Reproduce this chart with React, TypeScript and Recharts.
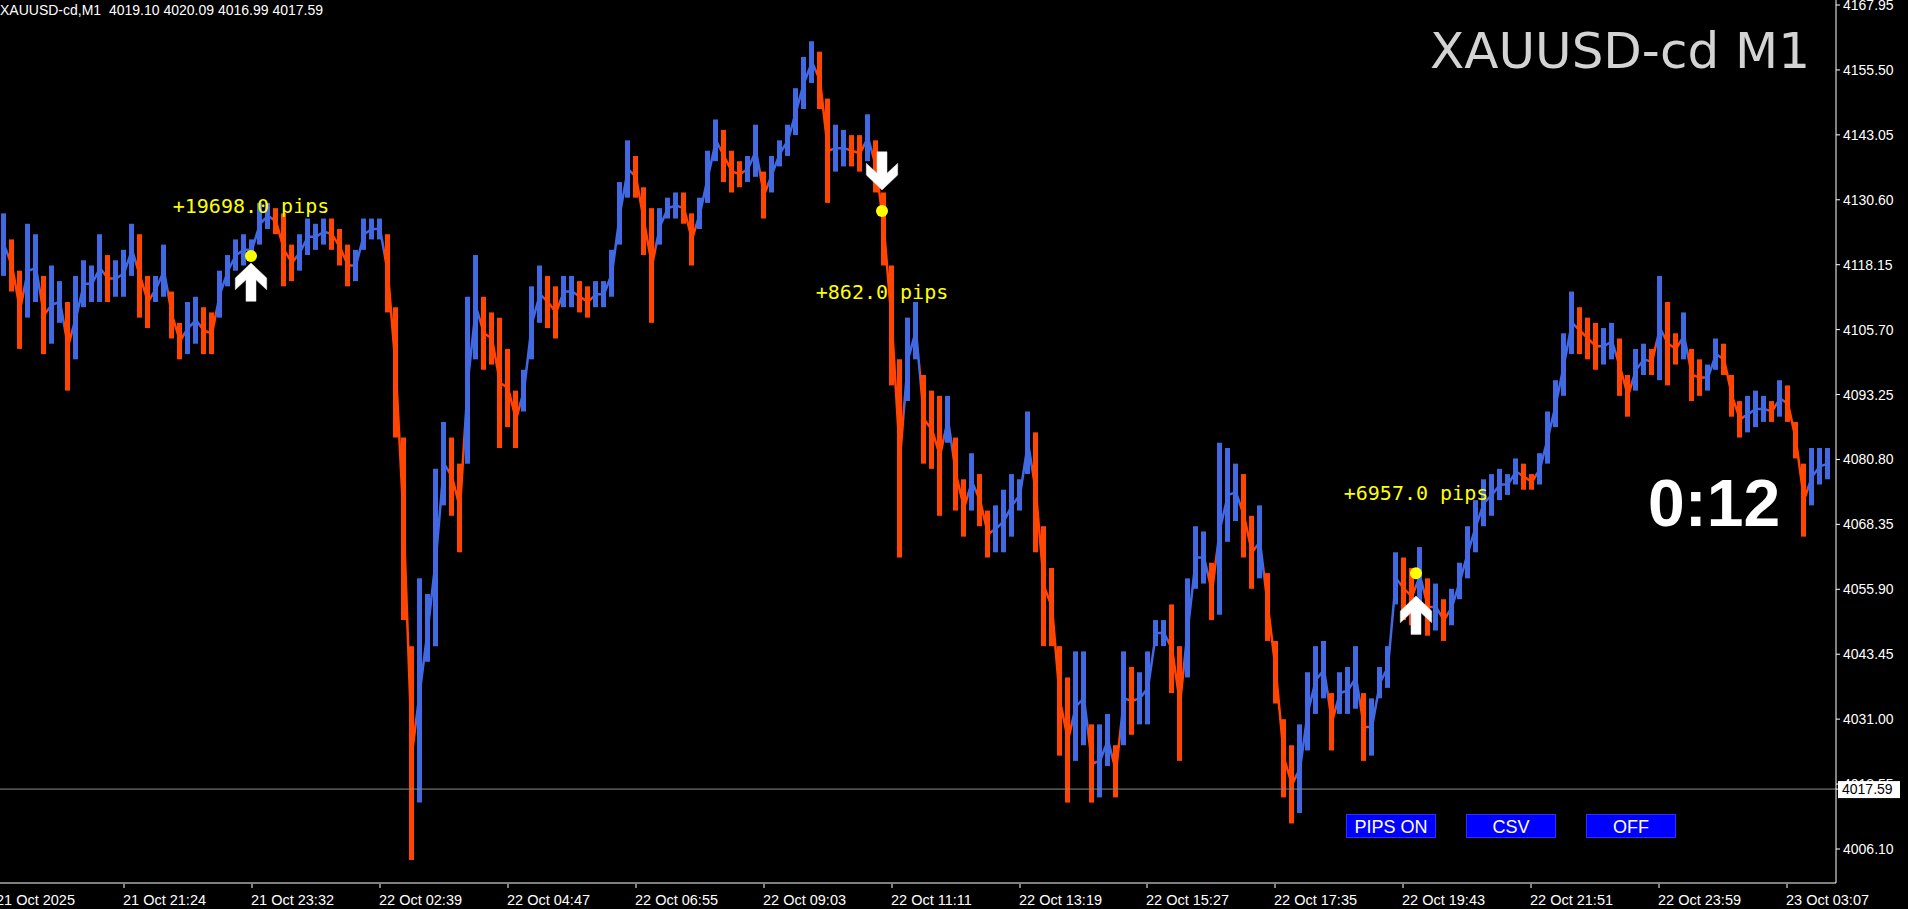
import React from 'react';
import { ComposedChart, Bar, Line, Cell, XAxis, YAxis, ReferenceLine, ReferenceDot } from 'recharts';

// XAUUSD-cd M1, sampled in 8-minute buckets (high / low of each bucket)
const highs = [
  4128, 4123, 4117, 4126, 4124, 4116, 4118, 4115, 4111, 4116,
  4119, 4118, 4124, 4120, 4119, 4121, 4126, 4124, 4116, 4116,
  4122, 4113, 4107, 4111, 4112, 4110, 4109, 4117, 4120, 4123,
  4124, 4123, 4130, 4130, 4129, 4128, 4122, 4124, 4127, 4126,
  4127, 4127, 4125, 4122, 4121, 4127, 4127, 4127, 4124, 4110,
  4085, 4045, 4058, 4055, 4079, 4088, 4085, 4080, 4112, 4120,
  4112, 4109, 4108, 4102, 4094, 4098, 4114, 4118, 4116, 4114,
  4116, 4116, 4115, 4114, 4115, 4115, 4121, 4134, 4142, 4139,
  4133, 4129, 4129, 4131, 4132, 4132, 4128, 4131, 4140, 4146,
  4144, 4140, 4138, 4139, 4145, 4136, 4139, 4142, 4145, 4152,
  4158, 4161, 4159, 4150, 4145, 4144, 4143, 4143, 4147, 4142,
  4132, 4118, 4100, 4108, 4111, 4097, 4094, 4093, 4093, 4085,
  4077, 4082, 4078, 4071, 4072, 4075, 4078, 4077, 4090, 4086,
  4068, 4060, 4045, 4039, 4044, 4044, 4030, 4030, 4032, 4026,
  4044, 4041, 4040, 4044, 4050, 4050, 4053, 4045, 4058, 4068,
  4067, 4061, 4084, 4083, 4080, 4078, 4070, 4072, 4059, 4046,
  4031, 4026, 4030, 4040, 4045, 4046, 4036, 4040, 4041, 4045,
  4036, 4035, 4041, 4045, 4063, 4062, 4060, 4064, 4058, 4057,
  4054, 4056, 4061, 4068, 4073, 4077, 4078, 4079, 4078, 4081,
  4080, 4078, 4082, 4090, 4096, 4105, 4113, 4110, 4108, 4107,
  4106, 4107, 4104, 4097, 4102, 4103, 4102, 4116, 4111, 4105,
  4109, 4102, 4100, 4099, 4104, 4103, 4097, 4092, 4093, 4094,
  4093, 4092, 4096, 4095, 4088, 4080, 4083, 4083, 4083,
];

const lows = [
  4116, 4113, 4102, 4108, 4111, 4101, 4103, 4107, 4094, 4100,
  4110, 4111, 4111, 4111, 4112, 4112, 4116, 4108, 4106, 4111,
  4112, 4104, 4100, 4101, 4103, 4101, 4101, 4108, 4114, 4117,
  4118, 4119, 4122, 4125, 4124, 4114, 4115, 4117, 4120, 4121,
  4122, 4121, 4118, 4114, 4115, 4121, 4123, 4123, 4109, 4085,
  4050, 4004, 4015, 4042, 4045, 4072, 4070, 4063, 4080, 4100,
  4098, 4099, 4083, 4087, 4083, 4090, 4100, 4107, 4106, 4104,
  4110, 4110, 4109, 4108, 4110, 4110, 4112, 4122, 4131, 4131,
  4120, 4107, 4122, 4127, 4127, 4126, 4118, 4125, 4130, 4138,
  4134, 4132, 4133, 4134, 4135, 4127, 4132, 4137, 4139, 4143,
  4148, 4153, 4148, 4130, 4136, 4137, 4137, 4136, 4138, 4132,
  4118, 4095, 4062, 4092, 4100, 4080, 4079, 4070, 4084, 4071,
  4066, 4071, 4068, 4062, 4063, 4063, 4066, 4071, 4078, 4063,
  4045, 4045, 4024, 4015, 4023, 4026, 4015, 4016, 4022, 4016,
  4026, 4028, 4030, 4030, 4045, 4045, 4036, 4023, 4039, 4056,
  4057, 4050, 4051, 4065, 4069, 4062, 4056, 4058, 4046, 4034,
  4016, 4011, 4013, 4025, 4032, 4035, 4025, 4032, 4032, 4033,
  4023, 4024, 4035, 4037, 4053, 4050, 4049, 4053, 4047, 4048,
  4046, 4049, 4054, 4058, 4063, 4068, 4070, 4073, 4074, 4076,
  4075, 4075, 4076, 4080, 4087, 4093, 4101, 4101, 4100, 4098,
  4099, 4100, 4093, 4089, 4094, 4097, 4097, 4096, 4095, 4099,
  4100, 4092, 4093, 4094, 4098, 4097, 4089, 4085, 4086, 4087,
  4088, 4088, 4089, 4088, 4081, 4066, 4072, 4076, 4077,
];

const priceTicks = [
  4006.1, 4018.55, 4031.0, 4043.45, 4055.9, 4068.35, 4080.8,
  4093.25, 4105.7, 4118.15, 4130.6, 4143.05, 4155.5, 4167.95,
];

const timeTicks = [0, 124, 252, 380, 508, 636, 764, 892, 1020, 1147, 1275, 1403, 1531, 1659, 1787];
const timeLabels = [
  '21 Oct 2025', '21 Oct 21:24', '21 Oct 23:32', '22 Oct 02:39', '22 Oct 04:47',
  '22 Oct 06:55', '22 Oct 09:03', '22 Oct 11:11', '22 Oct 13:19', '22 Oct 15:27',
  '22 Oct 17:35', '22 Oct 19:43', '22 Oct 21:51', '22 Oct 23:59', '23 Oct 03:07',
];

const lastPrice = 4017.59;

// trade signals
const signalTime = [251, 882, 1416];
const signalPrice = [4119.8, 4128.45, 4059.0];
const arrowPrice = [4118.47, 4132.47, 4054.6];
const arrowDir = ['up', 'down', 'up'];
const pipsText = ['+19698.0 pips', '+862.0 pips', '+6957.0 pips'];
const pipsPrice = [4128.06, 4111.57, 4073.03];

const BLUE = '#4169E1';
const ORANGE = '#FF4500';
const AXIS_FONT = "'Liberation Sans', Arial, sans-serif";
const PLOT_W = 1836;

const rows = highs.map((h, i) => ({ t: i * 8 + 4, range: [lows[i], h], mid: (h + lows[i]) / 2 }));

const barColor = (i: number) => {
  if (i === 0) return BLUE;
  return highs[i] + lows[i] >= highs[i - 1] + lows[i - 1] ? BLUE : ORANGE;
};

const TimeTick = (props: any) => {
  const { x, y, payload } = props;
  const idx = timeTicks.indexOf(payload.value);
  const first = idx === 0;
  return (
    <g>
      {!first && <line x1={x} x2={x} y1={y - 7} y2={y - 3} stroke="#fff" />}
      <text x={first ? x - 4 : x - 1} y={y + 14} fill="#fff" fontSize={14.5} fontFamily={AXIS_FONT}>
        {timeLabels[idx]}
      </text>
    </g>
  );
};

const PriceTick = (props: any) => {
  const { x, y, payload } = props;
  if (payload.value === lastPrice) {
    return (
      <g>
        <rect x={x - 5} y={y - 8} width={62} height={17} fill="#fff" />
        <text x={x - 1} y={y + 5} fill="#000" fontSize={14} fontFamily={AXIS_FONT}>
          {lastPrice.toFixed(2)}
        </text>
      </g>
    );
  }
  return (
    <text x={x} y={y + 5} fill="#fff" fontSize={14} fontFamily={AXIS_FONT}>
      {payload.value.toFixed(2)}
    </text>
  );
};

const Arrow = (props: any) => {
  const { cx, cy, dir } = props;
  const s = dir === 'up' ? 1 : -1;
  const pts = [
    [0, 0], [15.7, 15], [15.7, 26.7], [5, 16.7], [5, 38.3],
    [-5, 38.3], [-5, 16.7], [-15.7, 26.7], [-15.7, 15],
  ].map(([px, py]) => `${cx + px},${cy + s * py}`).join(' ');
  return <polygon points={pts} fill="#fff" stroke="#e8e8e8" strokeWidth={0.5} />;
};

const buttons = ['PIPS ON', 'CSV', 'OFF'];

export default function App() {
  return (
    <div style={{ position: 'fixed', left: 0, top: 0, width: 1908, height: 909, background: '#000', overflow: 'hidden' }}>
      <svg width={0} height={0} style={{ position: 'absolute' }}>
        <defs>
          <linearGradient id="candleGrad" gradientUnits="userSpaceOnUse" x1={0} y1={0} x2={PLOT_W} y2={0}>
            {rows.flatMap((r, i) => [
              <stop key={'s' + i} offset={(i * 8) / PLOT_W} stopColor={barColor(i)} />,
              <stop key={'e' + i} offset={(i * 8 + 8) / PLOT_W} stopColor={barColor(i)} />,
            ])}
          </linearGradient>
        </defs>
      </svg>
      <ComposedChart width={1908} height={909} data={rows} margin={{ top: 0, right: 0, bottom: 0, left: 0 }}>
        <XAxis
          dataKey="t"
          type="number"
          domain={[0, PLOT_W]}
          allowDataOverflow
          ticks={timeTicks}
          interval={0}
          height={26}
          axisLine={{ stroke: '#fff' }}
          tickLine={false}
          tick={(p: any) => <TimeTick {...p} />}
        />
        <YAxis
          orientation="right"
          type="number"
          domain={[3999.58, 4168.91]}
          allowDataOverflow
          ticks={[...priceTicks, lastPrice]}
          interval={0}
          width={72}
          axisLine={{ stroke: '#fff' }}
          tickLine={{ stroke: '#fff' }}
          tickSize={4}
          tickMargin={3}
          tick={(p: any) => <PriceTick {...p} />}
        />
        <ReferenceLine y={lastPrice} stroke="#8a8a8a" strokeWidth={1} />
        <Bar dataKey="range" barSize={5} isAnimationActive={false}>
          {rows.map((_, i) => (
            <Cell key={i} fill={barColor(i)} />
          ))}
        </Bar>
        <Line
          dataKey="mid"
          type="linear"
          stroke="url(#candleGrad)"
          strokeWidth={2.5}
          dot={false}
          activeDot={false}
          isAnimationActive={false}
        />
        {signalTime.map((t, i) => (
          <ReferenceDot
            key={'a' + i}
            x={t}
            y={arrowPrice[i]}
            r={1}
            ifOverflow="visible"
            shape={(p: any) => <Arrow {...p} dir={arrowDir[i]} />}
          />
        ))}
        {signalTime.map((t, i) => (
          <ReferenceDot key={'d' + i} x={t} y={signalPrice[i]} r={6} fill="#FFFF00" stroke="none" ifOverflow="visible" />
        ))}
        {signalTime.map((t, i) => (
          <ReferenceDot
            key={'l' + i}
            x={t}
            y={pipsPrice[i]}
            r={1}
            ifOverflow="visible"
            shape={(p: any) => (
              <text x={p.cx} y={p.cy} textAnchor="middle" fill="#FFFF00" fontSize={20} fontFamily="'DejaVu Sans Mono', monospace">
                {pipsText[i]}
              </text>
            )}
          />
        ))}
      </ComposedChart>
      <svg width={1908} height={909} style={{ position: 'absolute', left: 0, top: 0, pointerEvents: 'none' }}>
        <text x={0} y={15} fill="#fff" fontSize={14} fontFamily={AXIS_FONT} style={{ whiteSpace: 'pre' }}>
          {'XAUUSD-cd,M1  4019.10 4020.09 4016.99 4017.59'}
        </text>
        <text x={1810} y={68} textAnchor="end" fill="#d3d3d3" fontSize={50} fontFamily="'DejaVu Sans', sans-serif">
          XAUUSD-cd M1
        </text>
        <text x={1648} y={526} fill="#fff" fontSize={66} fontWeight="bold" fontFamily={AXIS_FONT}>
          0:12
        </text>
        {buttons.map((b, i) => (
          <g key={b}>
            <rect x={1346.5 + i * 120} y={814.5} width={89} height={23} fill="#0000FF" stroke="#2f2fff" strokeWidth={1} />
            <text x={1391 + i * 120} y={833} textAnchor="middle" fill="#fff" fontSize={18} fontFamily={AXIS_FONT}>
              {b}
            </text>
          </g>
        ))}
      </svg>
    </div>
  );
}
